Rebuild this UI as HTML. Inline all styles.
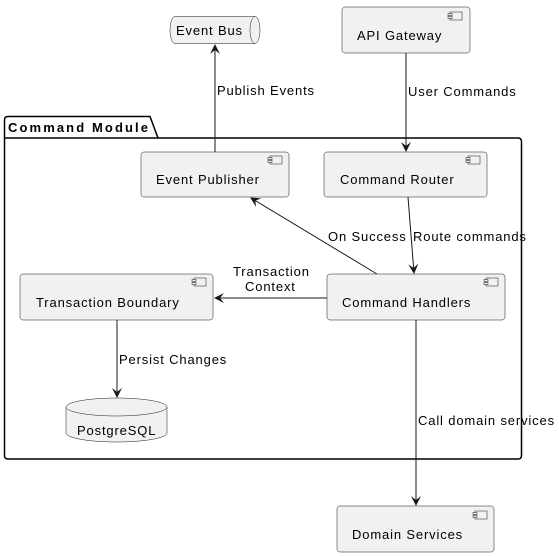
<!DOCTYPE html>
<html><head><meta charset="utf-8"><style>
html,body{margin:0;padding:0;background:#fff}
svg{display:block}
text{font-family:"Liberation Sans",sans-serif;font-size:13px;fill:#000;letter-spacing:0.85px}
.n{fill:#f1f1f1;stroke:#181818;stroke-width:0.5}
.l{stroke:#181818;stroke-width:1;fill:none}
</style></head><body>
<svg width="559" height="557" viewBox="0 0 559 557" xmlns="http://www.w3.org/2000/svg">
<defs>
<marker id="a" viewBox="0 0 10 10" refX="9" refY="5" markerWidth="10" markerHeight="10" orient="auto" markerUnits="userSpaceOnUse">
<path d="M0,0 L10,5 L0,10 L4,5 Z" fill="#181818"/>
</marker>
<g id="ic"><rect x="2" y="0" width="12" height="8" fill="#f1f1f1" stroke="#181818" stroke-width="0.5"/><rect x="0" y="1.5" width="4" height="2" fill="#f1f1f1" stroke="#181818" stroke-width="0.5"/><rect x="0" y="4.5" width="4" height="2" fill="#f1f1f1" stroke="#181818" stroke-width="0.5"/></g>
</defs>
<path d="M4.5,138 L4.5,120 Q4.5,116.5 8,116.5 L150,116.5 L158,138 L518,138 Q521.5,138 521.5,141.5 L521.5,455.5 Q521.5,459 518,459 L8,459 Q4.5,459 4.5,455.5 Z" fill="none" stroke="#000" stroke-width="1.5"/>
<line x1="4.5" y1="138" x2="158" y2="138" stroke="#000" stroke-width="1.5"/>
<text x="8" y="132" style="font-weight:bold;letter-spacing:2.1px">Command Module</text>

<path class="n" d="M175,16.5 L255,16.5 A5,13.5 0 0 1 255,43.5 L175,43.5 A5,13.5 0 0 1 175,16.5 Z"/>
<path class="n" d="M255,16.5 A5,13.5 0 0 0 255,43.5" fill="none"/>
<text x="176" y="35">Event Bus</text>

<rect class="n" x="342" y="7" width="128" height="46" rx="3"/>
<use href="#ic" x="448" y="12"/>
<text x="357" y="40">API Gateway</text>

<rect class="n" x="141" y="152" width="148" height="45" rx="3"/>
<use href="#ic" x="268" y="156"/>
<text x="156" y="184">Event Publisher</text>

<rect class="n" x="324" y="152" width="163" height="45" rx="3"/>
<use href="#ic" x="466" y="156"/>
<text x="340" y="184">Command Router</text>

<rect class="n" x="20" y="274" width="193" height="46" rx="3"/>
<use href="#ic" x="192" y="278"/>
<text x="36" y="307">Transaction Boundary</text>

<rect class="n" x="327" y="274" width="178" height="46" rx="3"/>
<use href="#ic" x="484" y="278"/>
<text x="342" y="307">Command Handlers</text>

<path class="n" d="M66,407 A50.5,9 0 0 1 167,407 L167,433 A50.5,9 0 0 1 66,433 Z"/>
<path class="n" d="M66,407 A50.5,9 0 0 0 167,407" fill="none"/>
<text x="77" y="435">PostgreSQL</text>

<rect class="n" x="337" y="506" width="157" height="46" rx="3"/>
<use href="#ic" x="473" y="511"/>
<text x="352" y="539">Domain Services</text>

<line class="l" x1="215" y1="152" x2="215" y2="45" marker-end="url(#a)"/>
<text x="217" y="95">Publish Events</text>

<line class="l" x1="406" y1="53" x2="406" y2="151" marker-end="url(#a)"/>
<text x="408" y="96">User Commands</text>

<line class="l" x1="408" y1="197" x2="414" y2="273" marker-end="url(#a)"/>
<text x="413" y="241">Route commands</text>

<line class="l" x1="377" y1="274" x2="251" y2="198" marker-end="url(#a)"/>
<text x="328" y="241">On Success</text>

<line class="l" x1="327" y1="298" x2="215" y2="298" marker-end="url(#a)"/>
<text x="233" y="276">Transaction</text>
<text x="245" y="291">Context</text>

<line class="l" x1="117" y1="320" x2="117" y2="397" marker-end="url(#a)"/>
<text x="119" y="364">Persist Changes</text>

<line class="l" x1="416" y1="320" x2="416" y2="505" marker-end="url(#a)"/>
<text x="418" y="425">Call domain services</text>
</svg>
</body></html>
